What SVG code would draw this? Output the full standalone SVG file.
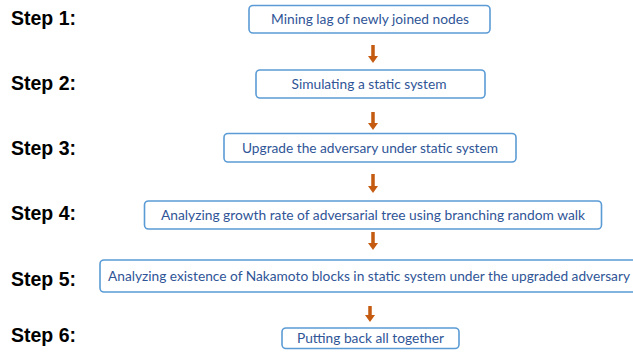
<svg xmlns="http://www.w3.org/2000/svg" width="633" height="352" viewBox="0 0 633 352">
<style>
.step{font-family:"Liberation Sans",Arial,sans-serif;font-weight:bold;font-size:19.5px;fill:#000}
.box{fill:#fff;stroke:#5B9BD5;stroke-width:1.6}
.lbl{font-family:Lato,"Open Sans",sans-serif;font-size:14px;fill:#2F5597;text-anchor:middle}
.arr{stroke:#C55A11;stroke-width:3.5;fill:none;marker-end:url(#ah)}
</style>
<defs>
<marker id="ah" viewBox="0 0 10 10" refX="0" refY="5" markerWidth="7" markerHeight="10" markerUnits="userSpaceOnUse" orient="auto" preserveAspectRatio="none">
<path d="M0,0 L10,5 L0,10 z" fill="#C55A11"/>
</marker>
</defs>
<rect width="633" height="352" fill="#fff"/>
<g id="steps">
<text class="step" x="11" y="25">Step 1:</text>
<text class="step" x="11" y="90">Step 2:</text>
<text class="step" x="11" y="155">Step 3:</text>
<text class="step" x="11" y="220">Step 4:</text>
<text class="step" x="11" y="286">Step 5:</text>
<text class="step" x="11" y="342">Step 6:</text>
</g>
<g id="node1">
<rect class="box" x="249" y="5.5" width="241" height="27.5" rx="4"/>
<text class="lbl" x="370" y="24" textLength="198" lengthAdjust="spacingAndGlyphs">Mining lag of newly joined nodes</text>
</g>
<g id="node2">
<rect class="box" x="256" y="70" width="229" height="28" rx="4"/>
<text class="lbl" x="369" y="89" textLength="155" lengthAdjust="spacingAndGlyphs">Simulating a static system</text>
</g>
<g id="node3">
<rect class="box" x="224" y="133.5" width="292" height="28.5" rx="4"/>
<text class="lbl" x="370" y="153" textLength="256" lengthAdjust="spacingAndGlyphs">Upgrade the adversary under static system</text>
</g>
<g id="node4">
<rect class="box" x="144.5" y="201" width="457" height="28" rx="4"/>
<text class="lbl" x="373" y="220" textLength="424" lengthAdjust="spacingAndGlyphs">Analyzing growth rate of adversarial tree using branching random walk</text>
</g>
<g id="node5">
<rect class="box" x="100" y="260" width="545" height="32" rx="4"/>
<text class="lbl" x="369" y="281" style="font-size:13.5px" textLength="522" lengthAdjust="spacingAndGlyphs">Analyzing existence of Nakamoto blocks in static system under the upgraded adversary</text>
</g>
<g id="node6">
<rect class="box" x="282" y="328" width="177" height="20.5" rx="4"/>
<text class="lbl" x="370.5" y="343" textLength="147" lengthAdjust="spacingAndGlyphs">Putting back all together</text>
</g>
<g id="connectors">
<line class="arr" x1="373" y1="45" x2="373" y2="56"/>
<line class="arr" x1="373" y1="112" x2="373" y2="123"/>
<line class="arr" x1="373" y1="174" x2="373" y2="186"/>
<line class="arr" x1="373" y1="232" x2="373" y2="243"/>
<line class="arr" x1="370" y1="306" x2="370" y2="315"/>
</g>
</svg>
